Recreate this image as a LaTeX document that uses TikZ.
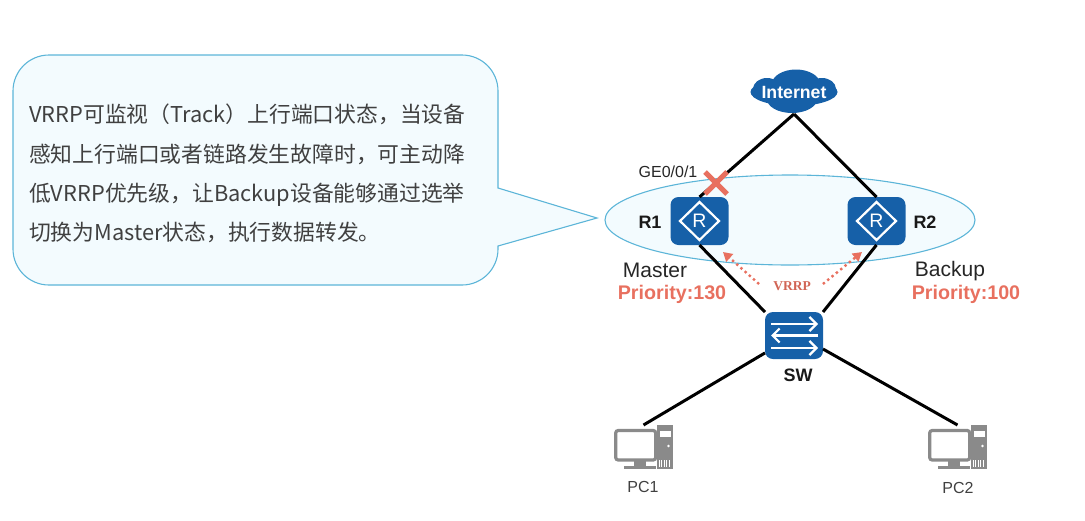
\documentclass[tikz,border=0pt]{standalone}
\usepackage{fontspec}
\setmainfont{Liberation Sans}
\newfontfamily\cjk{Noto Sans CJK SC}
\newfontfamily\serifvrrp{Liberation Serif}
\usetikzlibrary{arrows.meta,calc,shapes.geometric,shapes.misc}
\definecolor{netblue}{HTML}{1660A8}
\definecolor{salmon}{HTML}{E8705F}
\definecolor{paleblue}{HTML}{F3FBFE}
\definecolor{rimblue}{HTML}{5CB5D8}
\definecolor{pcgrey}{HTML}{8A8A8A}
\tikzset{
  device/.style={fill=netblue,rounded corners=8,minimum width=58,minimum height=48,inner sep=0,outer sep=0},
  linkline/.style={line width=3},
  tag/.style={inner sep=0,font=\fontsize{21}{21}\selectfont,text=black!85},
  boldtag/.style={inner sep=0,font=\fontsize{18}{18}\selectfont\bfseries,text=black!90},
  prio/.style={inner sep=0,font=\fontsize{19.7}{19.7}\selectfont\bfseries,text=salmon},
  pctag/.style={inner sep=0,font=\fontsize{16}{16}\selectfont,text=black!75},
  vrrparrow/.style={salmon,line width=2.4,dash pattern=on 2.4 off 3.2,-{Triangle[width=10,length=9,fill=salmon]}},
  swarrow/.style={white,line width=2.2,-{Straight Barb[length=7,width=14,line width=2.2]}},
  pcbox/.style={minimum width=59,minimum height=44,inner sep=0,outer sep=0},
  pics/pcicon/.style={code={
    % tower behind the screen
    \fill[pcgrey] (13,-22) -- (29.5,-22) -- (29.5,22) -- (13,22) -- cycle;
    \fill[white] (16,-16) rectangle (27,-10);
    \fill[white] (25,-1) circle (1.3);
    \foreach \i in {0,...,4} \fill[white] (15.5+2.4*\i,13) rectangle (16.5+2.4*\i,20);
    % screen and stand
    \draw[pcgrey,fill=white,line width=3.2,rounded corners=2.5] (-27.8,-16.5) rectangle (12.2,13);
    \fill[pcgrey] (-10,14) rectangle (2,20);
    \fill[pcgrey] (-20,18.5) rectangle (12,22);
  }}
}
\begin{document}
\begin{tikzpicture}[x=1pt,y=-1pt]
\useasboundingbox (0,0) rectangle (1085,520);
% speech bubble
\draw[rimblue,fill=paleblue,line width=1.1] (498,150) -- (498,188) -- (597,218) -- (498,246) [rounded corners=36] -- (498,285) -- (13,285) -- (13,55) -- (498,55) -- cycle;
\node[anchor=north west,inner sep=0,align=left,text=black!75,font=\cjk\fontsize{21.8}{39.3}\selectfont] (note) at (29,104) {VRRP可监视（Track）上行端口状态，当设备\\感知上行端口或者链路发生故障时，可主动降\\低VRRP优先级，让Backup设备能够通过选举\\切换为Master状态，执行数据转发。};
% the ellipse round both routers
\node[ellipse,draw=rimblue,fill=paleblue,line width=1.1,minimum width=370,minimum height=90,inner sep=0] (pair) at (790,220) {};

% cloud body
\fill[netblue] (794,92) ellipse [x radius=43.5,y radius=14];
\fill[netblue] (796,84) ellipse [x radius=24,y radius=14.5];
\fill[netblue] (792,99) ellipse [x radius=25,y radius=14];
\fill[netblue] (767,89) ellipse [x radius=14,y radius=11];
\fill[netblue] (822,89) ellipse [x radius=14,y radius=11];
\node[minimum width=88,minimum height=44,inner sep=0,outer sep=0,text=white,font=\fontsize{17.7}{17.7}\selectfont\bfseries] (internet) at (794,92) {Internet};
\node[device] (R1) at (699.5,221) {};
\node[device] (R2) at (876.5,221) {};
\node[device,minimum height=47] (SW) at (794,335.5) {};
\node[pcbox] (PC1) at (643.5,447) {};
\node[pcbox] (PC2) at (957.5,447) {};

\draw[linkline] (internet.south) -- (R1.north);
\draw[linkline] (internet.south) -- (R2.north);
\draw[linkline] (R1.south) -- (SW.north west);
\draw[linkline] (R2.south) -- (SW.north east);
\draw[linkline] (SW.211) -- (PC1.north);
\draw[linkline] (SW.-25) -- (PC2.north);

% router marks
\foreach \n in {R1,R2}{
  \draw[white,line width=2.2] (\n.center) ++(-19.5,0) -- ++(19.5,-19) -- ++(19.5,19) -- ++(-19.5,19) -- cycle;
  \node[text=white,inner sep=0,font=\fontsize{19.5}{19.5}\selectfont] at (\n.center) {R};
}
% switch marks
\draw[swarrow] ($(SW.center)+(-23,-11.5)$) -- ($(SW.center)+(24,-11.5)$);
\draw[swarrow] ($(SW.center)+(24,0)$) -- ($(SW.center)+(-23,0)$);
\draw[swarrow] ($(SW.center)+(-23,12.5)$) -- ($(SW.center)+(24,12.5)$);
\pic at (PC1.center) {pcicon};
\pic at (PC2.center) {pcicon};

\node[cross out,draw=salmon,line width=5,minimum size=17,inner sep=0] (fail) at (716,183) {};
\node[tag,font=\fontsize{16}{16}\selectfont] (port) at (668,172) {GE0/0/1};
\node[boldtag] (R1name) at (650,222) {R1};
\node[boldtag] (R2name) at (925,222) {R2};
\node[tag] (master) at (655,270) {Master};
\node[tag] (backup) at (950,271) {Backup};
\node[prio] (prio1) at (672,294) {Priority:130};
\node[prio] (prio2) at (966,294) {Priority:100};
\node[boldtag] (SWname) at (798,375) {SW};
\node[pctag] (PC1name) at (643,487) {PC1};
\node[pctag] (PC2name) at (958,488) {PC2};

\node[inner sep=0,text=salmon!90!black,font=\serifvrrp\bfseries\fontsize{13.5}{13.5}\selectfont] (vrrp) at (792,286) {VRRP};
\coordinate (toR1) at (723,252);
\coordinate (toR2) at (862,252);
\draw[vrrparrow] ($(vrrp.west)+(-14,-2)$) -- (toR1);
\draw[vrrparrow] ($(vrrp.east)+(12,-2)$) -- (toR2);
\end{tikzpicture}
\end{document}
